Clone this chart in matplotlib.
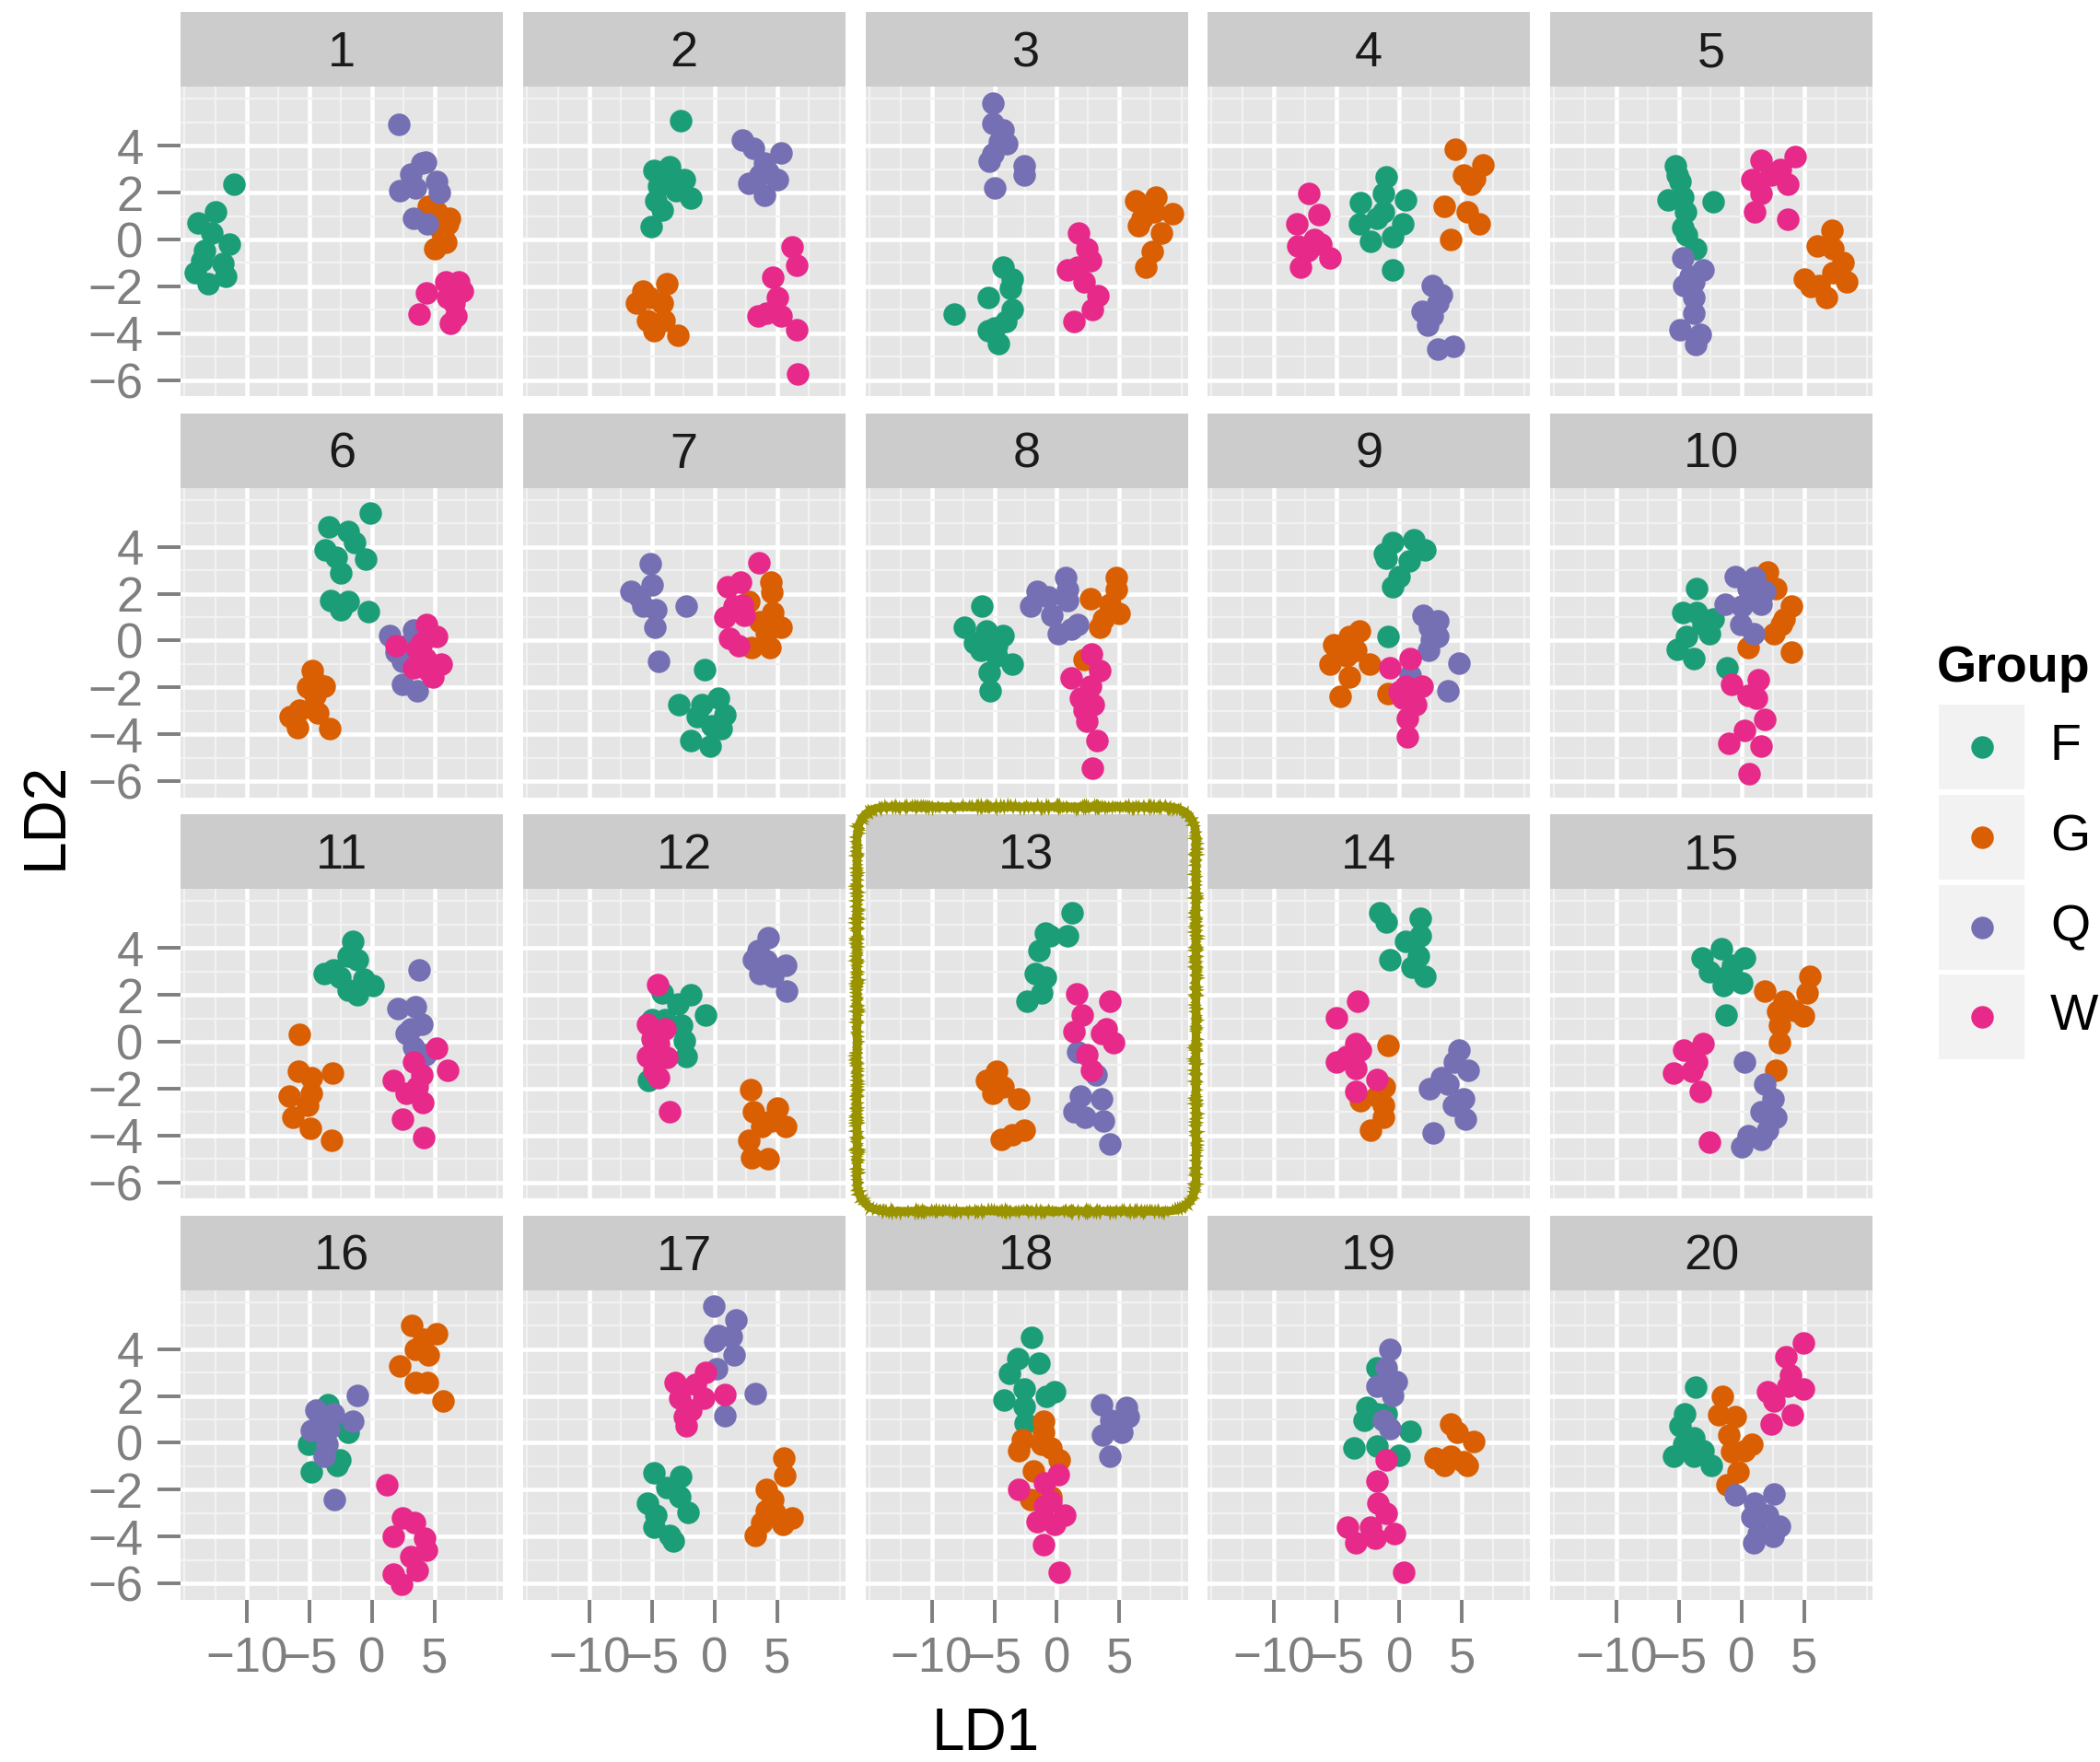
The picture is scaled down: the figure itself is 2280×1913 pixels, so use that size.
import matplotlib
matplotlib.use("Agg")
import matplotlib.pyplot as plt
from matplotlib.patches import FancyBboxPatch, Rectangle

plt.rcParams['font.family'] = ['Liberation Sans', 'DejaVu Sans']

groups = ['F', 'G', 'Q', 'W']
colors = {'F': '#1B9E77', 'G': '#D95F02', 'Q': '#7570B3', 'W': '#E7298A'}
panels = [str(i) for i in range(1, 21)]
highlight = '13'

x_major = [-10, -5, 0, 5]
x_minor = [-15, -12.5, -7.5, -2.5, 2.5, 7.5, 10]
y_major = [-6, -4, -2, 0, 2, 4]
y_minor = [-5, -3, -1, 1, 3, 5, 6]

# LD1/LD2 scores per panel, one list per group
ld_F = [
    [(-11.0, 2.37), (-12.5, 1.17), (-13.9, 0.72), (-12.8, 0.26), (-11.4, -0.2), (-13.4, -0.46), (-11.9, -1.04), (-14.1, -1.43), (-13.1, -1.89), (-11.7, -1.56), (-13.6, -0.9)],
    [(-2.69, 5.05), (-4.83, 2.96), (-3.62, 3.12), (-2.41, 2.54), (-4.48, 2.28), (-3.1, 2.08), (-1.9, 1.76), (-4.66, 1.63), (-4.14, 1.24), (-5.07, 0.56), (-3.45, 2.73)],
    [(-8.2, -3.19), (-4.3, -1.17), (-3.6, -1.69), (-3.7, -2.08), (-5.5, -2.47), (-3.6, -3.0), (-5.0, -3.78), (-4.7, -4.43), (-4.1, -3.5), (-5.5, -3.9)],
    [(-1.03, 2.67), (-1.3, 1.95), (-3.1, 1.56), (0.5, 1.69), (-1.3, 1.17), (-3.2, 0.65), (0.26, 0.65), (-0.5, 0.13), (-2.3, -0.07), (-0.5, -1.3), (-1.8, 0.91)],
    [(-5.26, 3.13), (-4.9, 2.47), (-5.9, 1.69), (-4.74, 1.82), (-2.3, 1.59), (-4.5, 1.17), (-4.74, 0.52), (-4.4, 0.2), (-3.7, -0.39), (-5.16, 2.73)],
    [(-0.17, 5.44), (-3.45, 4.86), (-1.9, 4.66), (-1.38, 4.2), (-3.72, 3.88), (-0.52, 3.49), (-2.83, 3.55), (-2.48, 2.9), (-3.28, 1.72), (-1.9, 1.66), (-2.48, 1.33), (-0.28, 1.23)],
    [(-0.76, -1.24), (-2.83, -2.74), (-1.03, -2.72), (0.28, -2.45), (0.86, -3.17), (-0.17, -3.63), (-1.9, -4.28), (-0.34, -4.48), (0.52, -3.76), (-1.38, -3.24)],
    [(-6.03, 1.46), (-7.4, 0.55), (-5.6, 0.42), (-4.3, 0.22), (-6.6, -0.1), (-4.85, -0.23), (-6.1, -0.43), (-3.56, -1.02), (-5.4, -1.34), (-5.3, -2.13), (-4.85, -0.63)],
    [(-0.52, 4.18), (1.19, 4.31), (2.06, 3.85), (-1.19, 3.72), (0.77, 3.39), (0.0, 2.74), (-0.52, 2.28), (-0.88, 0.16), (-1.03, 3.52)],
    [(-3.6, 2.22), (-4.74, 1.2), (-3.6, 1.2), (-2.3, 0.94), (-4.4, 0.16), (-2.55, 0.29), (-5.16, -0.37), (-3.85, -0.76), (-1.15, -1.15), (-3.1, 0.68)],
    [(-1.55, 4.29), (-1.9, 3.64), (-1.2, 3.51), (-3.8, 2.92), (-2.6, 2.73), (-0.69, 2.66), (0.07, 2.4), (-1.9, 2.2), (-1.2, 2.0), (-3.1, 3.05)],
    [(-4.2, 2.07), (-1.9, 2.0), (-2.93, 1.61), (-0.69, 1.15), (-5.0, 0.96), (-2.6, 0.69), (-2.4, 0.04), (-2.24, -0.62), (-5.28, -1.66), (-3.97, 0.96)],
    [(1.24, 5.5), (-0.93, 4.63), (0.88, 4.5), (-1.44, 3.9), (-1.7, 2.92), (-0.93, 2.73), (-1.19, 2.07), (-2.37, 1.74), (-0.52, 4.5)],
    [(-1.55, 5.48), (-1.03, 5.09), (1.7, 5.28), (0.52, 4.3), (1.7, 4.5), (1.55, 3.64), (-0.77, 3.51), (1.03, 3.18), (2.06, 2.79)],
    [(-1.61, 3.97), (-3.18, 3.58), (0.26, 3.58), (-2.55, 2.99), (-0.99, 2.92), (-1.5, 2.4), (0.0, 2.53), (-1.25, 1.15), (-0.73, 3.25)],
    [(-3.52, 1.64), (-1.9, 0.46), (-5.1, -0.07), (-2.6, -0.72), (-2.76, -0.98), (-4.83, -1.25), (-2.93, 0.98)],
    [(-4.83, -1.27), (-2.69, -1.44), (-3.8, -1.9), (-5.34, -2.56), (-2.76, -2.3), (-2.14, -2.95), (-4.66, -3.08), (-4.83, -3.61), (-3.62, -3.94), (-3.28, -4.2)],
    [(-2.0, 4.5), (-3.14, 3.61), (-1.4, 3.41), (-3.8, 2.95), (-2.63, 2.3), (-0.15, 2.17), (-0.88, 1.97), (-4.2, 1.84), (-2.63, 1.57), (-2.5, 0.85)],
    [(-1.8, 3.22), (-2.58, 1.51), (-2.84, 0.98), (-1.8, 1.25), (0.88, 0.49), (-3.6, -0.2), (-1.8, -0.13), (0.0, -0.52), (-1.03, 1.25)],
    [(-3.7, 2.36), (-4.53, 1.25), (-4.9, 0.72), (-3.85, 0.2), (-5.42, -0.59), (-3.85, -0.59), (-2.45, -0.98), (-3.07, -0.33), (-4.64, -0.07)],
]
ld_G = [
    [(4.48, 1.43), (5.17, 1.17), (6.03, 0.65), (5.69, 0.13), (5.0, -0.39), (4.83, 1.04), (6.2, 0.91), (5.5, 0.4), (5.86, -0.13)],
    [(-3.79, -1.89), (-5.69, -2.21), (-6.2, -2.73), (-5.17, -2.47), (-4.14, -2.73), (-5.34, -3.45), (-4.0, -3.45), (-4.83, -3.9), (-2.93, -4.1)],
    [(6.3, 1.63), (7.9, 1.82), (9.2, 1.1), (6.8, 0.91), (8.35, 0.26), (6.55, 0.59), (7.6, -0.52), (7.1, -1.17), (7.8, 1.17)],
    [(4.5, 3.84), (6.7, 3.19), (5.15, 2.73), (5.7, 2.34), (3.6, 1.43), (5.4, 1.17), (6.4, 0.65), (4.1, 0.0), (6.0, 2.6)],
    [(7.24, 0.39), (6.0, -0.26), (7.3, -0.39), (8.1, -0.98), (5.0, -1.69), (6.2, -1.95), (8.4, -1.82), (6.8, -2.47), (7.3, -1.43), (5.5, -2.0)],
    [(-4.76, -1.28), (-4.48, -1.8), (-3.8, -1.93), (-5.17, -2.0), (-4.55, -2.32), (-6.55, -3.24), (-5.79, -2.98), (-4.31, -3.1), (-5.93, -3.7), (-3.38, -3.76)],
    [(4.48, 2.51), (4.55, 2.05), (2.76, 1.66), (4.66, 1.2), (5.34, 0.55), (4.14, 0.35), (2.93, -0.3), (4.41, -0.3), (3.6, 0.81)],
    [(4.74, 2.7), (4.74, 2.18), (2.68, 1.79), (4.23, 1.57), (3.7, 0.91), (5.0, 1.17), (3.45, 0.55), (2.16, -0.82)],
    [(-3.2, 0.42), (-4.0, 0.16), (-5.26, -0.17), (-4.2, -0.63), (-2.4, -1.02), (-5.5, -1.02), (-4.0, -1.54), (-4.74, -2.39), (-0.93, -2.26), (-3.45, -0.43)],
    [(2.08, 2.94), (2.7, 2.22), (3.96, 1.46), (3.4, 0.94), (2.6, 0.29), (0.52, -0.3), (3.96, -0.5), (3.15, 0.68)],
    [(-5.8, 0.3), (-5.86, -1.27), (-4.83, -1.53), (-3.17, -1.34), (-6.6, -2.32), (-4.83, -2.19), (-5.17, -2.71), (-6.3, -3.24), (-4.9, -3.7), (-3.2, -4.22)],
    [(2.86, -2.06), (3.1, -2.98), (5.0, -2.84), (5.69, -3.63), (3.79, -3.63), (2.76, -4.22), (2.93, -4.94), (4.31, -5.0), (4.48, -3.37)],
    [(-4.85, -1.27), (-5.6, -1.66), (-4.3, -1.93), (-5.1, -2.19), (-3.04, -2.45), (-2.6, -3.76), (-4.45, -4.15), (-3.6, -3.96)],
    [(-0.88, -0.16), (-1.19, -1.93), (-3.1, -2.52), (-1.3, -2.71), (-1.3, -3.24), (-2.3, -3.76), (-1.8, -2.32)],
    [(5.47, 2.79), (1.82, 2.14), (5.2, 2.07), (3.39, 1.74), (2.86, 1.28), (4.95, 1.09), (4.17, 1.35), (3.0, 0.69), (3.0, -0.03), (2.76, -1.21)],
    [(3.17, 4.99), (5.17, 4.66), (3.45, 4.0), (4.48, 3.74), (2.24, 3.28), (3.45, 2.56), (4.41, 2.56), (5.69, 1.78), (4.14, 4.4)],
    [(5.52, -0.66), (5.6, -1.38), (4.14, -1.97), (4.66, -2.43), (4.14, -2.89), (6.2, -3.22), (5.45, -3.48), (3.79, -3.41), (3.28, -3.94), (4.83, -2.95)],
    [(-1.08, 0.92), (-2.78, 0.13), (-1.08, 0.46), (-0.46, -0.2), (-3.04, -0.33), (0.15, -0.72), (-1.9, -1.18), (-2.1, -2.43), (-0.46, -2.3), (-1.24, -0.07)],
    [(4.12, 0.79), (4.64, 0.46), (5.93, 0.07), (2.84, -0.66), (4.12, -0.59), (5.15, -0.79), (3.6, -0.98), (5.4, -0.98)],
    [(-1.56, 1.97), (-1.82, 1.18), (-0.52, 1.12), (-1.04, 0.33), (0.78, -0.07), (-0.78, -0.39), (0.26, -0.33), (-0.26, -1.25), (-1.15, -1.77)],
]
ld_Q = [
    [(2.14, 4.91), (4.3, 3.28), (3.1, 2.8), (2.24, 2.08), (5.17, 2.47), (5.34, 2.02), (3.45, 2.2), (3.28, 0.91), (4.41, 0.65), (3.97, 3.26)],
    [(2.24, 4.23), (3.1, 3.9), (5.34, 3.71), (3.97, 3.26), (2.76, 2.41), (5.0, 2.54), (3.97, 1.89), (4.3, 2.86), (3.6, 2.73)],
    [(-5.1, 5.83), (-5.1, 4.95), (-4.3, 4.69), (-4.6, 4.17), (-4.0, 4.1), (-5.4, 3.32), (-2.6, 3.13), (-2.6, 2.73), (-5.0, 2.21), (-5.1, 3.65)],
    [(2.6, -1.95), (3.1, -2.73), (1.8, -3.06), (2.3, -3.65), (3.1, -4.69), (4.3, -4.56), (3.35, -2.34), (2.6, -3.26)],
    [(-4.74, -0.78), (-3.1, -1.3), (-3.85, -1.82), (-4.6, -1.95), (-3.85, -2.47), (-3.85, -3.13), (-3.3, -4.04), (-4.9, -3.84), (-3.7, -4.49), (-4.1, -1.56)],
    [(1.38, 0.22), (3.28, 0.44), (1.9, -0.5), (2.4, -0.89), (2.4, -1.87), (3.6, -2.13), (2.76, -0.23)],
    [(-5.1, 3.29), (-5.0, 2.38), (-6.7, 2.11), (-5.69, 1.46), (-4.66, 1.33), (-6.0, 1.85), (-4.76, 0.55), (-2.24, 1.46), (-4.48, -0.89)],
    [(0.72, 2.7), (0.88, 2.18), (-1.55, 2.09), (-0.67, 1.85), (-2.06, 1.46), (-0.41, 1.07), (0.88, 1.7), (1.65, 0.68), (0.1, 0.29), (1.13, 0.48)],
    [(1.9, 1.07), (3.1, 0.85), (2.4, 0.55), (2.58, 0.03), (2.32, -0.43), (4.8, -0.95), (0.88, -1.48), (3.87, -2.13), (3.1, 0.16)],
    [(-0.52, 2.74), (1.04, 2.68), (0.52, 2.22), (1.82, 2.09), (-1.3, 1.57), (1.56, 1.57), (0.0, 1.46), (-0.1, 0.68), (0.94, 0.29)],
    [(3.72, 3.05), (2.07, 1.42), (3.45, 1.48), (3.97, 0.76), (2.76, 0.37), (3.28, -0.22), (4.3, -0.55), (3.1, 0.56)],
    [(4.31, 4.43), (3.45, 3.9), (3.1, 3.51), (5.69, 3.25), (3.62, 2.92), (4.66, 2.79), (5.79, 2.16), (4.14, 3.45)],
    [(1.65, -0.42), (3.1, -1.4), (1.9, -2.32), (3.6, -2.45), (1.39, -2.98), (3.7, -3.37), (4.23, -4.35), (2.27, -3.24)],
    [(4.8, -0.35), (4.4, -0.88), (5.5, -1.21), (3.35, -1.53), (2.4, -1.99), (5.15, -2.45), (4.3, -2.71), (5.3, -3.3), (2.7, -3.89), (3.87, -1.8)],
    [(0.26, -0.88), (1.82, -1.8), (2.5, -2.45), (1.56, -2.98), (2.7, -3.24), (2.08, -3.76), (0.52, -4.02), (0.0, -4.48), (1.56, -4.15)],
    [(-1.2, 2.03), (-4.48, 1.38), (-3.1, 1.25), (-1.55, 0.92), (-4.83, 0.52), (-3.45, 0.59), (-3.62, -0.07), (-3.8, -0.59), (-3.0, -2.4), (-4.14, 0.98)],
    [(-0.07, 5.84), (1.72, 5.25), (0.34, 4.59), (1.38, 4.53), (0.0, 4.33), (1.55, 3.74), (0.17, 3.15), (3.28, 2.1), (0.86, 1.14)],
    [(3.55, 1.64), (5.57, 1.51), (4.28, 0.98), (5.67, 1.12), (3.65, 0.33), (5.2, 0.46), (4.23, -0.59), (4.74, 0.72)],
    [(-0.77, 4.0), (-1.03, 3.22), (-0.26, 2.62), (-1.8, 2.43), (-0.52, 2.03), (-1.29, 0.98), (-0.77, 0.59)],
    [(-0.52, -2.23), (1.04, -2.56), (2.6, -2.17), (0.78, -3.15), (2.08, -3.08), (3.0, -3.54), (1.3, -3.87), (0.94, -4.26), (2.5, -4.0)],
]
ld_W = [
    [(4.31, -2.28), (3.79, -3.19), (5.86, -1.82), (7.24, -2.21), (6.55, -2.73), (6.28, -3.58), (6.9, -1.82), (6.03, -2.47), (6.7, -3.26)],
    [(6.2, -0.33), (6.55, -1.1), (4.66, -1.63), (5.0, -2.47), (3.45, -3.26), (5.34, -3.26), (6.55, -3.84), (6.62, -5.73), (4.14, -3.13)],
    [(1.75, 0.26), (2.4, -0.39), (0.88, -1.3), (2.7, -0.91), (2.2, -1.82), (3.3, -2.41), (2.8, -3.0), (1.4, -3.5), (1.65, -1.17)],
    [(-7.2, 1.95), (-6.4, 1.04), (-8.2, 0.65), (-6.8, 0.0), (-8.1, -0.26), (-5.5, -0.78), (-7.9, -1.17), (-6.3, -0.2), (-7.3, -0.46)],
    [(1.56, 3.39), (4.3, 3.52), (0.78, 2.54), (2.34, 2.73), (3.65, 2.34), (1.56, 1.95), (1.04, 1.17), (3.65, 0.85), (3.1, 2.99)],
    [(4.31, 0.68), (1.9, -0.23), (5.17, 0.16), (3.62, -0.37), (4.3, -0.76), (5.5, -1.02), (3.28, -1.15), (4.83, -1.54), (3.97, -0.1), (4.5, -1.28)],
    [(3.52, 3.32), (2.07, 2.51), (1.03, 2.31), (2.24, 1.53), (0.86, 1.0), (2.4, 1.07), (1.2, 0.09), (1.9, -0.23), (1.55, 1.46)],
    [(2.78, -0.56), (3.45, -1.28), (1.13, -1.6), (2.68, -1.93), (1.9, -2.45), (2.94, -2.72), (2.42, -3.43), (3.2, -4.28), (2.8, -5.46), (2.16, -2.98)],
    [(-0.77, -1.15), (0.88, -0.76), (0.52, -1.93), (1.8, -1.93), (0.26, -2.45), (1.29, -2.72), (0.67, -3.31), (0.67, -4.09), (0.0, -2.19)],
    [(-0.78, -1.87), (1.3, -1.67), (0.52, -2.32), (1.2, -2.45), (1.82, -3.37), (0.26, -3.84), (-1.04, -4.37), (1.56, -4.5), (0.62, -5.67)],
    [(5.17, -0.29), (6.03, -1.21), (3.28, -0.88), (1.72, -1.66), (3.97, -1.4), (2.76, -2.19), (4.07, -2.58), (2.4, -3.3), (4.14, -4.09), (3.6, -1.93)],
    [(-4.55, 2.42), (-5.34, 0.76), (-3.97, 0.56), (-5.0, 0.1), (-3.8, -0.68), (-5.34, -0.62), (-4.83, -1.21), (-4.48, -1.53), (-3.55, -2.98), (-4.48, -0.09)],
    [(1.55, 2.03), (4.23, 1.74), (2.06, 1.15), (1.39, 0.43), (3.6, 0.37), (4.5, -0.03), (2.42, -0.55), (2.78, -1.21), (3.97, 0.56)],
    [(-3.35, 1.74), (-5.0, 1.02), (-3.45, -0.09), (-5.0, -0.88), (-3.1, -0.35), (-3.45, -1.14), (-1.8, -1.6), (-3.45, -2.12), (-4.2, -0.62)],
    [(-3.07, -0.09), (-4.64, -0.35), (-3.6, -0.88), (-5.42, -1.34), (-4.0, -1.27), (-3.3, -2.12), (-2.55, -4.29)],
    [(1.2, -1.77), (2.4, -3.22), (3.38, -3.41), (1.72, -4.0), (4.2, -4.07), (4.31, -4.59), (3.1, -4.86), (3.62, -5.45), (1.72, -5.58), (2.34, -6.04)],
    [(-3.17, 2.59), (-0.69, 3.02), (-1.55, 2.49), (-2.76, 1.9), (-0.86, 1.9), (0.86, 2.06), (-1.9, 1.38), (-2.41, 1.12), (-2.24, 0.72)],
    [(0.1, -1.35), (-3.04, -2.0), (-0.98, -1.71), (-0.98, -2.69), (0.62, -3.08), (-1.6, -3.35), (-0.15, -3.48), (-1.08, -4.33), (0.15, -5.51), (-0.46, -2.49)],
    [(-1.03, -0.72), (-1.8, -1.64), (-1.7, -2.56), (-1.03, -3.02), (-4.12, -3.61), (-2.32, -3.61), (-0.36, -3.87), (-3.45, -4.26), (-1.96, -4.07), (0.36, -5.51)],
    [(4.95, 4.27), (3.54, 3.67), (3.9, 2.89), (2.08, 2.17), (4.95, 2.3), (2.6, 1.77), (4.06, 1.18), (2.34, 0.79), (3.65, 2.43)],
]
scores = {'F': ld_F, 'G': ld_G, 'Q': ld_Q, 'W': ld_W}

W, H = 2280, 1913
fig = plt.figure(figsize=(W / 100, H / 100), dpi=100)
fig.patch.set_facecolor('white')

grey50 = '#7F7F7F'
pt_size = 310

# panel geometry in pixels
left0, col_step, pw = 196, 371.75, 350
top0, row_step, strip_h, ph = 13, 435.5, 81, 336

for i, name in enumerate(panels):
    r, c = divmod(i, 5)
    left = left0 + c * col_step
    stop = top0 + r * row_step
    bottom = stop + strip_h + ph

    ax = fig.add_axes([left / W, 1 - bottom / H, pw / W, ph / H])
    ax.set_facecolor('#E5E5E5')
    for s in ax.spines.values():
        s.set_visible(False)
    ax.set_xlim(-15.3, 10.45)
    ax.set_ylim(-6.68, 6.52)
    ax.set_xticks(x_major)
    ax.set_xticks(x_minor, minor=True)
    ax.set_yticks(y_major)
    ax.set_yticks(y_minor, minor=True)
    ax.grid(which='minor', color='#F2F2F2', lw=1.6)
    ax.grid(which='major', color='white', lw=3.3)
    ax.set_axisbelow(True)
    ax.tick_params(which='minor', length=0)
    ax.tick_params(which='major', length=18, width=2.8, color=grey50,
                   labelcolor=grey50, labelsize=38, pad=11)
    ax.set_xticklabels(['\u221210', '\u22125', '0', '5'])
    ax.set_yticklabels(['\u22126', '\u22124', '\u22122', '0', '2', '4'])
    if r < 3:
        ax.tick_params(axis='x', which='major', length=0, labelbottom=False)
    if c > 0:
        ax.tick_params(axis='y', which='major', length=0, labelleft=False)

    for g in groups:
        pts = scores[g][i]
        ax.scatter([p[0] for p in pts], [p[1] for p in pts], s=pt_size,
                   color=colors[g], linewidths=0, zorder=3)

    sax = fig.add_axes([left / W, 1 - (stop + strip_h) / H, pw / W, strip_h / H])
    sax.set_facecolor('#CCCCCC')
    sax.set_xticks([])
    sax.set_yticks([])
    for s in sax.spines.values():
        s.set_visible(False)
    sax.text(0.5, 0.44, name, ha='center', va='center', fontsize=39,
             color='#1A1A1A', transform=sax.transAxes)

# overlay in pixel coordinates for titles, legend and the highlight
ov = fig.add_axes([0, 0, 1, 1], zorder=10)
ov.set_xlim(0, W)
ov.set_ylim(H, 0)
ov.axis('off')
ov.patch.set_alpha(0)

ov.text(1070, 1900, 'LD1', ha='center', va='baseline', fontsize=46, color='black')
ov.text(50, 885, 'LD2', ha='center', va='center', rotation=90, fontsize=46, color='black')

# legend
ov.text(2103, 740, 'Group', ha='left', va='baseline', fontsize=40, fontweight='bold')
key_tops = [765, 863, 961, 1058]
for g, kt in zip(groups, key_tops):
    ov.add_patch(Rectangle((2105, kt), 93, 92, facecolor='#F2F2F2', edgecolor='none'))
    ov.scatter([2151.5], [kt + 46], s=pt_size, color=colors[g], linewidths=0)
    ov.text(2226, kt + 46, g, ha='left', va='center', fontsize=40, color='black')

# hand-drawn highlight round panel 13
hi = panels.index(highlight)
hr, hc = divmod(hi, 5)
hx = left0 + hc * col_step - 9
hy = top0 + hr * row_step - 8
box_w, box_h = pw + 18, strip_h + ph + 22
base = FancyBboxPatch((hx, hy), box_w, box_h,
                      boxstyle='round,pad=0,rounding_size=34',
                      facecolor='none', edgecolor='#999300', lw=6.5)
ov.add_patch(base)
for sk in [(2.0, 3, 2), (2.5, 2, 3), (1.5, 4, 1)]:
    box = FancyBboxPatch((hx, hy), box_w, box_h,
                         boxstyle='round,pad=0,rounding_size=34',
                         facecolor='none', edgecolor='#999300', lw=3)
    box.set_sketch_params(*sk)
    ov.add_patch(box)

fig.savefig('out.png', dpi=100)
